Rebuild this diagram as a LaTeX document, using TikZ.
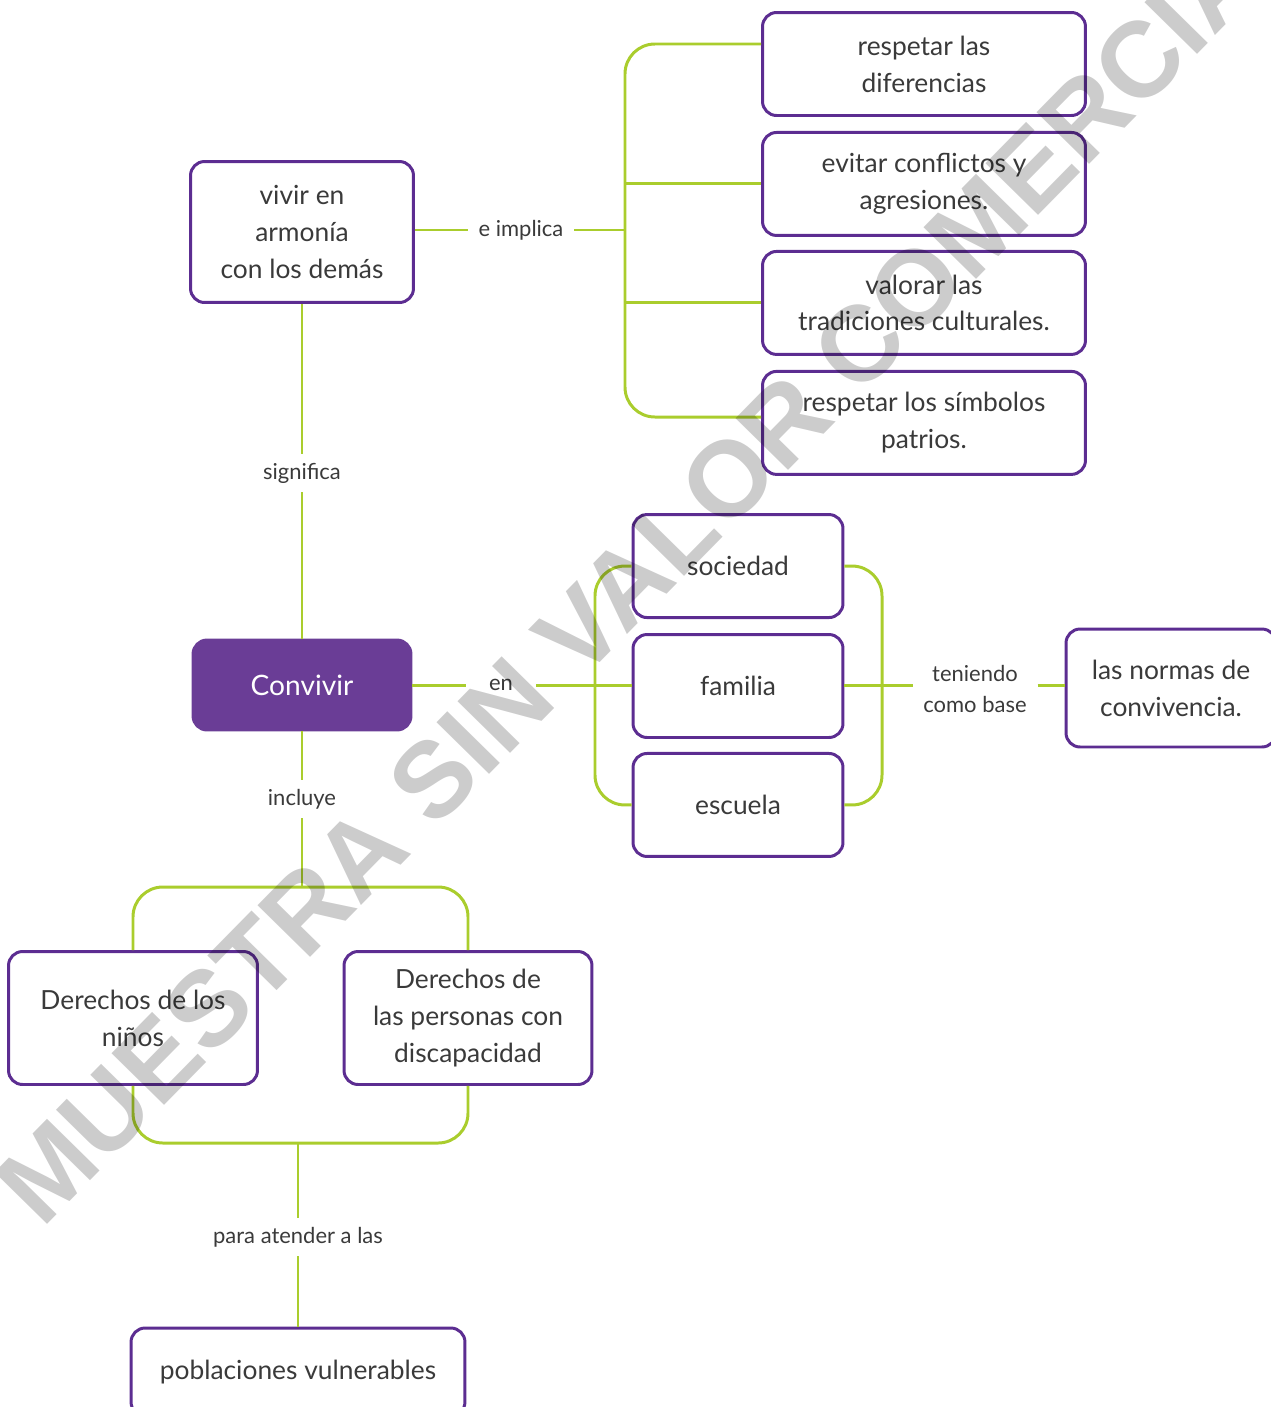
\documentclass[tikz,border=0pt]{standalone}
\usepackage{fontspec}
\setmainfont{Lato}
\newfontfamily\markfont{Liberation Sans}
\usepackage{xcolor}
\usepackage{tikz}
\definecolor{mappurple}{RGB}{92, 45, 145}
\definecolor{mapviolet}{RGB}{106, 61, 150}
\definecolor{mapgreen}{RGB}{170, 205, 45}
\definecolor{mapgray}{RGB}{58, 58, 58}
\usetikzlibrary{positioning}
\tikzset{
  concept/.style={rectangle, rounded corners=8pt, draw=mappurple, line width=1.7pt, text=mapgray, align=center, font=\fontsize{15}{21}\selectfont, inner sep=2pt},
  link/.style={draw=mapgreen, line width=1.7pt},
  tag/.style={text=mapgray, align=center, font=\fontsize{12.5}{18}\selectfont, inner xsep=6pt, inner ysep=5pt},
}

\begin{document}
\begin{tikzpicture}[x=0.02cm, y=-0.02cm]
    \useasboundingbox (0,0) rectangle (1271,1407);

    % Top branch
    \node[concept, minimum width=4.46cm, minimum height=2.82cm] (vivir) at (302,232) {vivir en\\armonía\\con los demás};
    \node[concept, minimum width=6.46cm, minimum height=2.06cm] (dif) at (924,64) {respetar las\\diferencias};
    \node[concept, minimum width=6.46cm, minimum height=2.06cm, below=0.28cm of dif] (conf) {evitar conflictos y\\agresiones.};
    \node[concept, minimum width=6.46cm, minimum height=2.06cm, below=0.26cm of conf] (trad) {valorar las\\tradiciones culturales.};
    \node[concept, minimum width=6.46cm, minimum height=2.06cm, below=0.28cm of trad] (sim) {respetar los símbolos\\patrios.};
    \node[tag] (impl) at (521,230) {e implica};
    \coordinate (spine) at (625,230);

    % Center
    \node[concept, fill=mapviolet, draw=mapviolet, text=white, minimum width=4.36cm, minimum height=1.8cm, font=\fontsize{16}{21}\selectfont] (conv) at (302,685) {Convivir};
    \node[tag] (sig) at (302,473) {significa};
    \node[tag, minimum width=1.4cm] (en) at (501,685) {en};
    \node[concept, minimum width=4.2cm, minimum height=2.06cm] (fam) at (738,686) {familia};
    \node[concept, minimum width=4.2cm, minimum height=2.06cm, above=0.28cm of fam] (soc) {sociedad};
    \node[concept, minimum width=4.2cm, minimum height=2.06cm, below=0.26cm of fam] (esc) {escuela};
    \coordinate (lspine) at (595,685);
    \coordinate (rspine) at (882,685);
    \node[tag] (base) at (975,689) {teniendo\\como base};
    \node[concept, minimum width=4.2cm, minimum height=2.36cm] (normas) at (1171,688) {las normas de\\convivencia.};

    % Bottom branch
    \node[tag] (incl) at (302,799) {incluye};
    \coordinate (topbar) at (302,887);
    \node[concept, minimum width=4.98cm, minimum height=2.66cm] (ninos) at (133,1018) {Derechos de los\\niños};
    \node[concept, minimum width=4.96cm, minimum height=2.66cm] (disc) at (468,1018) {Derechos de\\las personas con\\discapacidad};
    \coordinate (botbar) at (298,1143);
    \node[tag] (para) at (298,1237) {para atender a las};
    \node[concept, minimum width=6.68cm, minimum height=1.76cm] (pob) at (298,1372) {poblaciones vulnerables};

    % Connectors
    \draw[link] (vivir.east |- impl) -- (impl);
    \draw[link] (impl) -- (spine);
    \draw[link, rounded corners=17pt] (dif.west |- 0,44) -| (spine) |- (sim.west |- 0,417);
    \draw[link] (spine |- conf.west) -- (conf.west);
    \draw[link] (spine |- trad.west) -- (trad.west);
    \draw[link] (vivir) -- (sig);
    \draw[link] (sig) -- (conv);
    \draw[link] (conv) -- (en);
    \draw[link] (en) -- (fam.west |- en);
    \draw[link, rounded corners=17pt] (soc.west) -| (lspine) |- (esc.west);
    \draw[link, rounded corners=17pt] (soc.east) -| (rspine) |- (esc.east);
    \draw[link] (fam.east |- en) -- (base.west |- en);
    \draw[link] (base.east |- en) -- (normas.west |- en);
    \draw[link] (conv) -- (incl);
    \draw[link] (incl) -- (topbar);
    \draw[link, rounded corners=17pt] (ninos.north) |- (topbar) -| (disc.north);
    \draw[link, rounded corners=17pt] (ninos.south) |- (botbar) -| (disc.south);
    \draw[link] (botbar) -- (para);
    \draw[link] (para) -- (pob);

    % Watermark
    \node[rotate=45.5, anchor=base west, inner sep=0pt, text=black, text opacity=0.2, font=\markfont\bfseries\fontsize{61}{61}\selectfont] (mark) at (42,1230) {MUESTRA SIN VALOR COMERCIAL};
\end{tikzpicture}
\end{document}
